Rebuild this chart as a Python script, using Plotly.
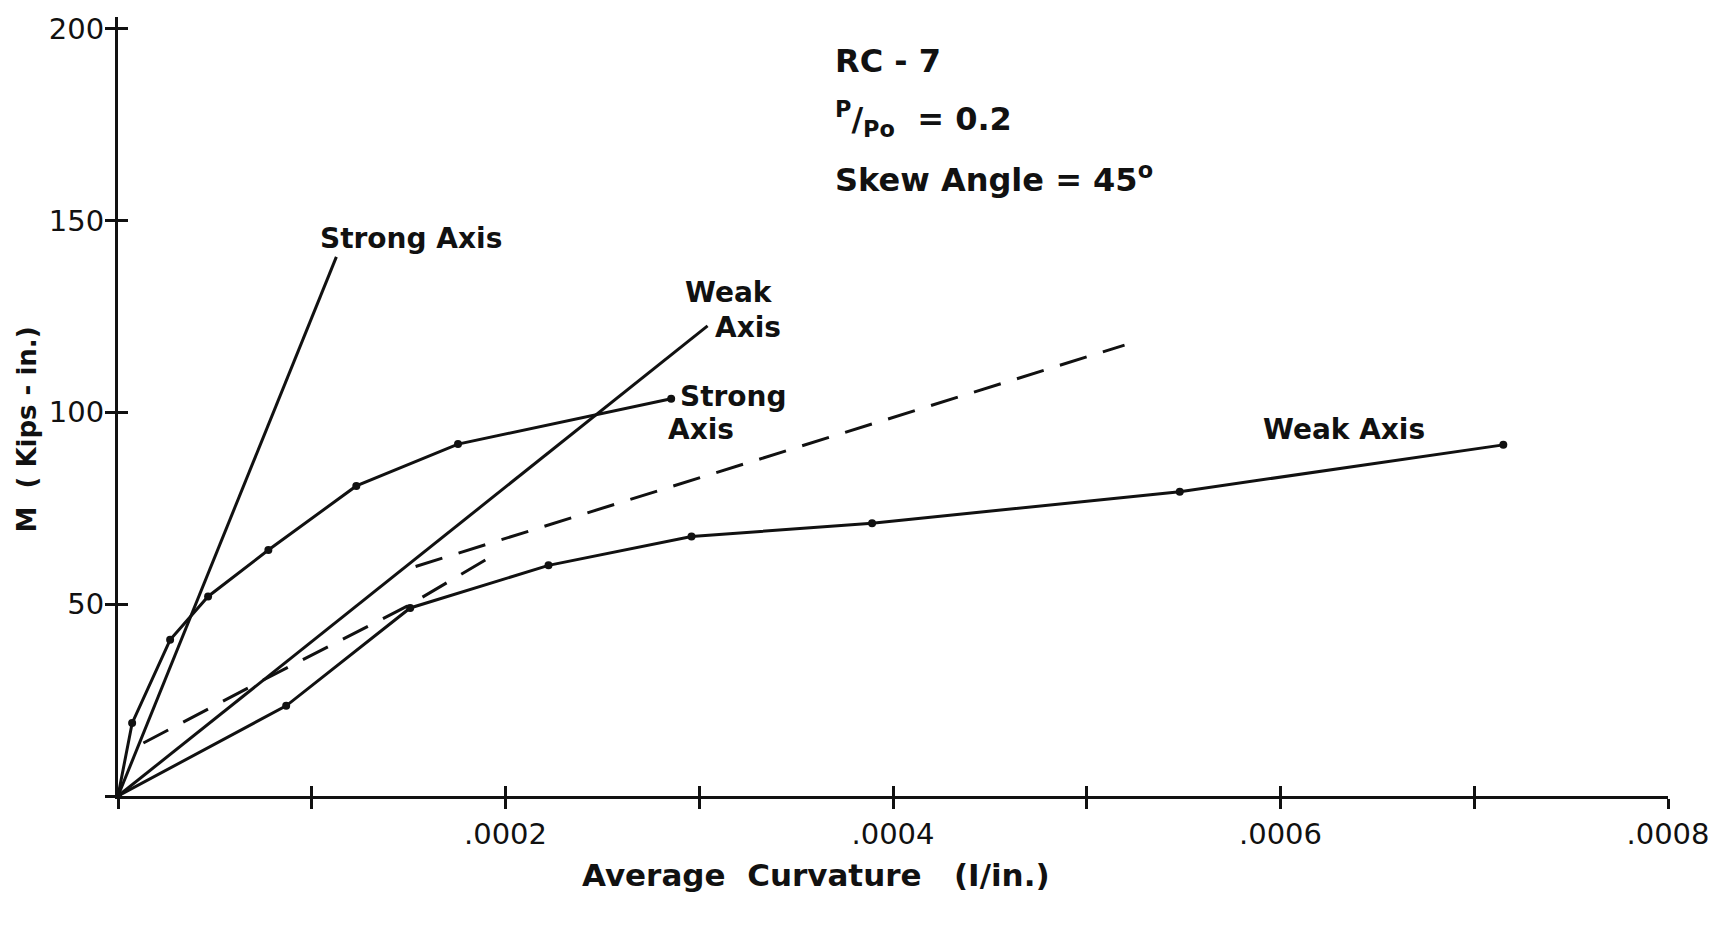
import plotly.graph_objects as go

# ---- data ----
strong_line_x = [0, 0.0001127]
strong_line_y = [0, 140.5]

weak_line_x = [0, 0.0003043]
weak_line_y = [0, 122.5]

strong_test_x = [0, 0.0000073, 0.0000269, 0.0000465, 0.0000776, 0.000123, 0.0001755, 0.0002855]
strong_test_y = [0, 19.0, 40.7, 52.0, 64.1, 80.8, 91.7, 103.5]

weak_test_x = [0, 0.0000868, 0.0001508, 0.0002222, 0.000296, 0.0003892, 0.000548, 0.000715]
weak_test_y = [0, 23.5, 49.0, 60.1, 67.6, 71.1, 79.3, 91.5]

dash_a_x = [0.0000131, 0.0000753, 0.000149, 0.0001939]
dash_a_y = [13.8, 30.3, 49.4, 62.8]

dash_b_x = [0.0001536, 0.0005195]
dash_b_y = [59.8, 117.5]

x_tick_vals = [0, 0.0001, 0.0002, 0.0003, 0.0004, 0.0005, 0.0006, 0.0007, 0.0008]
x_tick_text = ["", "", ".0002", "", ".0004", "", ".0006", "", ".0008"]
y_tick_vals = [0, 50, 100, 150, 200]
y_tick_text = ["", "50", "100", "150", "200"]

X_RANGE = [0, 0.0008]
Y_RANGE = [0, 203]

FONT = "DejaVu Sans"
INK = "#111111"

fig = go.Figure()

line_style = dict(color=INK, width=3)
fig.add_trace(go.Scatter(x=strong_line_x, y=strong_line_y, mode="lines", line=line_style, showlegend=False))
fig.add_trace(go.Scatter(x=weak_line_x, y=weak_line_y, mode="lines", line=line_style, showlegend=False))
fig.add_trace(go.Scatter(x=strong_test_x, y=strong_test_y, mode="lines+markers", line=line_style,
                         marker=dict(color=INK, size=8), showlegend=False))
fig.add_trace(go.Scatter(x=weak_test_x, y=weak_test_y, mode="lines+markers", line=line_style,
                         marker=dict(color=INK, size=8), showlegend=False))
fig.add_trace(go.Scatter(x=dash_a_x, y=dash_a_y, mode="lines",
                         line=dict(color=INK, width=3, dash="28px,17px"), showlegend=False))
fig.add_trace(go.Scatter(x=dash_b_x, y=dash_b_y, mode="lines",
                         line=dict(color=INK, width=3, dash="28px,17px"), showlegend=False))
# invisible trace to activate the overlay axes (inner halves of crossing ticks)
fig.add_trace(go.Scatter(x=[X_RANGE[0]], y=[Y_RANGE[0]], xaxis="x2", yaxis="y2", mode="markers",
                         marker=dict(opacity=0), hoverinfo="skip", showlegend=False))

ann_font = dict(family=FONT, size=28, color=INK)
info_font = dict(family=FONT, size=32, color=INK)
annotations = [
    dict(text="<b>Strong Axis</b>", x=0.0001032, y=145.4, font=ann_font),
    dict(text="<b>Weak</b>", x=0.0002918, y=131.1, font=ann_font),
    dict(text="<b>Axis</b>", x=0.0003072, y=122.0, font=ann_font),
    dict(text="<b>Strong</b>", x=0.0002892, y=104.0, font=ann_font),
    dict(text="<b>Axis</b>", x=0.000283, y=95.4, font=ann_font),
    dict(text="<b>Weak Axis</b>", x=0.00059, y=95.4, font=ann_font),
    dict(text="<b>RC - 7</b>", x=0.0003692, y=191.5, font=info_font),
    dict(text="<b><sup>P</sup>/<sub>Po</sub>  = 0.2</b>", x=0.0003692, y=176.5, font=info_font),
    dict(text="<b>Skew Angle = 45<sup>o</sup></b>", x=0.0003692, y=161.0, font=info_font),
]
ann_list = []
for a in annotations:
    ann_list.append(dict(text=a["text"], x=a["x"], y=a["y"], xref="x", yref="y",
                         xanchor="left", yanchor="middle", showarrow=False, font=a["font"]))
# axis titles
ann_list.append(dict(text="<b>M  ( Kips - in.)</b>", xref="paper", yref="y", x=0, y=95.5,
                     xshift=-91, textangle=-90, showarrow=False, xanchor="center", yanchor="middle",
                     font=dict(family=FONT, size=26, color=INK)))
ann_list.append(dict(text="<b>Average  Curvature   (I/in.)</b>", xref="x", yref="paper", x=0.00036, y=0,
                     yshift=-79, showarrow=False, xanchor="center", yanchor="middle",
                     font=dict(family=FONT, size=31, color=INK)))

axis_common = dict(showgrid=False, zeroline=False, color=INK)

fig.update_layout(
    width=1732, height=928,
    margin=dict(l=118, r=64, t=17, b=132, autoexpand=False),
    paper_bgcolor="white", plot_bgcolor="white",
    font=dict(family=FONT, size=25, color=INK),
    annotations=ann_list,
    xaxis=dict(range=X_RANGE, tickvals=x_tick_vals, ticktext=x_tick_text, ticks="outside",
               ticklen=10, tickwidth=3, tickcolor=INK, showline=True, linewidth=3, linecolor=INK,
               tickfont=dict(family=FONT, size=29, color=INK), **axis_common),
    yaxis=dict(range=Y_RANGE, tickvals=y_tick_vals, ticktext=y_tick_text, ticks="outside",
               ticklen=10, tickwidth=3, tickcolor=INK, showline=True, linewidth=3, linecolor=INK,
               ticklabelstandoff=-5,
               tickfont=dict(family=FONT, size=29, color=INK), **axis_common),
    xaxis2=dict(range=X_RANGE, overlaying="x", anchor="y2", side="bottom", tickvals=x_tick_vals,
                ticks="inside", ticklen=10, tickwidth=3, tickcolor=INK, showticklabels=False,
                showline=False, **axis_common),
    yaxis2=dict(range=Y_RANGE, overlaying="y", anchor="x2", side="left", tickvals=y_tick_vals,
                ticks="inside", ticklen=10, tickwidth=3, tickcolor=INK, showticklabels=False,
                showline=False, **axis_common),
)

fig.write_html("out.html")
